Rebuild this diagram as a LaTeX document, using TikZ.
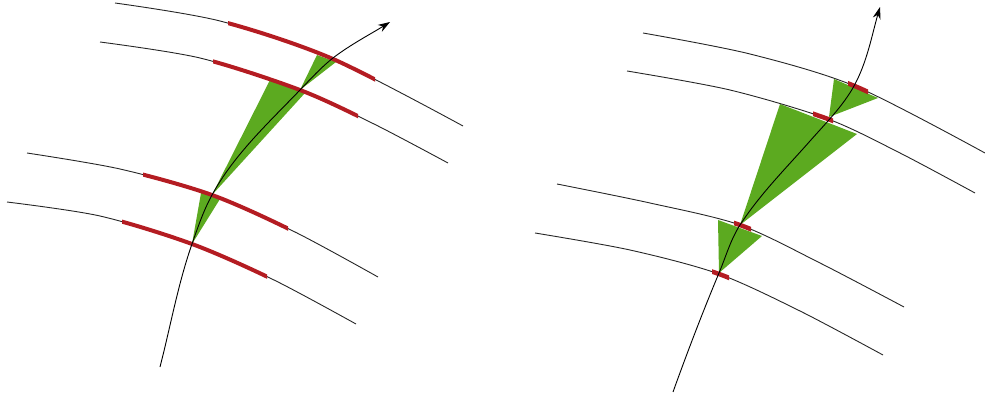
\documentclass[tikz,border=0pt]{standalone}
\usetikzlibrary{arrows.meta}
\definecolor{segred}{RGB}{180,28,34}
\definecolor{wedgegreen}{RGB}{92,170,32}
\tikzset{
  curveline/.style={black!85, line width=0.9pt},
  redseg/.style={segred, line width=4pt},
  redsmall/.style={segred, line width=4.5pt},
  wedge/.style={fill=wedgegreen},
  axisline/.style={black, line width=0.9pt, -{Stealth[length=12pt,width=8pt]}},
}
\newcommand\bandpart[4]{\begin{scope}\clip (#1,-50) rectangle (#2,450); \draw[#3] plot[smooth] coordinates {#4};\end{scope}}
\begin{document}
\begin{tikzpicture}[x=1pt,y=-1pt]
\useasboundingbox (0,0) rectangle (985,398);
% ---------- left panel ----------
\coordinate (la) at (192,244);
\coordinate (lb) at (212,195);
\coordinate (lc) at (300,90);
\coordinate (ld) at (333,58);
\coordinate (lbl) at (201,193); \coordinate (lbr) at (220,199);
\coordinate (lcl) at (270,80);  \coordinate (lcr) at (305,93);
\coordinate (ldl) at (317,55);  \coordinate (ldr) at (336,62);
\fill[wedge] (la) -- (lbl) -- (lbr) -- cycle;
\fill[wedge] (lb) -- (lcl) -- (lcr) -- cycle;
\fill[wedge] (lc) -- (ldl) -- (ldr) -- cycle;
\draw[curveline] plot[smooth] coordinates {(115,3) (220,21) (333,59) (463,126)};
\draw[curveline] plot[smooth] coordinates {(100,42) (200,58) (300,90) (374,124) (448,163)};
\draw[curveline] plot[smooth] coordinates {(27,153) (120,169) (212,195) (295,232) (378,277)};
\draw[curveline] plot[smooth] coordinates {(7,202) (100,216) (192,244) (274,280) (356,324)};
\bandpart{228}{375}{redseg}{(115,3) (220,21) (333,59) (463,126)}
\bandpart{213}{358}{redseg}{(100,42) (200,58) (300,90) (374,124) (448,163)}
\bandpart{143}{288}{redseg}{(27,153) (120,169) (212,195) (295,232) (378,277)}
\bandpart{122}{267}{redseg}{(7,202) (100,216) (192,244) (274,280) (356,324)}
\coordinate (lstart) at (160,367);
\coordinate (ltip) at (390,22);
\draw[axisline] (lstart) .. controls (170.5,326.3) and (178.1,283.5) .. (la)
  .. controls (197.9,227.1) and (203.4,210.8) .. (lb)
  .. controls (234.1,154.5) and (268.3,123.1) .. (lc)
  .. controls (310.4,79.2) and (321.2,67.2) .. (ld)
  .. controls (350.4,44.6) and (371.3,33.7) .. (ltip);
% ---------- right panel ----------
\coordinate (ra) at (719,273);
\coordinate (rb) at (740,225);
\coordinate (rm) at (810,141);
\coordinate (rd) at (854,86);
\coordinate (rc) at (829,117);
\coordinate (rbl) at (718,220); \coordinate (rbr) at (762,236);
\coordinate (rcl) at (780,104); \coordinate (rcr) at (857,134);
\coordinate (rdl) at (834,79);  \coordinate (rdr) at (878,98);
\fill[wedge] (ra) -- (rbl) -- (rbr) -- cycle;
\fill[wedge] (rb) -- (rcl) -- (rcr) -- cycle;
\fill[wedge] (rc) -- (rdl) -- (rdr) -- cycle;
\draw[curveline] plot[smooth] coordinates {(643,33) (750,54) (857,87) (985,153)};
\draw[curveline] plot[smooth] coordinates {(627,71) (730,90) (828,119) (900,153) (975,193)};
\draw[curveline] plot[smooth] coordinates {(557,184) (650,203) (740,225) (820,263) (904,307)};
\draw[curveline] plot[smooth] coordinates {(535,233) (630,250) (719,274) (800,311) (883,355)};
\bandpart{848}{868}{redsmall}{(643,33) (750,54) (857,87) (985,153)}
\bandpart{813}{833}{redsmall}{(627,71) (730,90) (828,119) (900,153) (975,193)}
\bandpart{734}{751}{redsmall}{(557,184) (650,203) (740,225) (820,263) (904,307)}
\bandpart{712}{729}{redsmall}{(535,233) (630,250) (719,274) (800,311) (883,355)}
\coordinate (rstart) at (673,392);
\coordinate (rtip) at (880,7);
\draw[axisline] (rstart) .. controls (687.4,352.0) and (702.6,312.2) .. (ra)
  .. controls (725.8,256.9) and (730.5,239.7) .. (rb)
  .. controls (760.2,193.9) and (785.5,168.8) .. (rm)
  .. controls (825.1,123.9) and (843.0,106.0) .. (rd)
  .. controls (867.2,62.0) and (872.1,34.2) .. (rtip);
\end{tikzpicture}
\end{document}
